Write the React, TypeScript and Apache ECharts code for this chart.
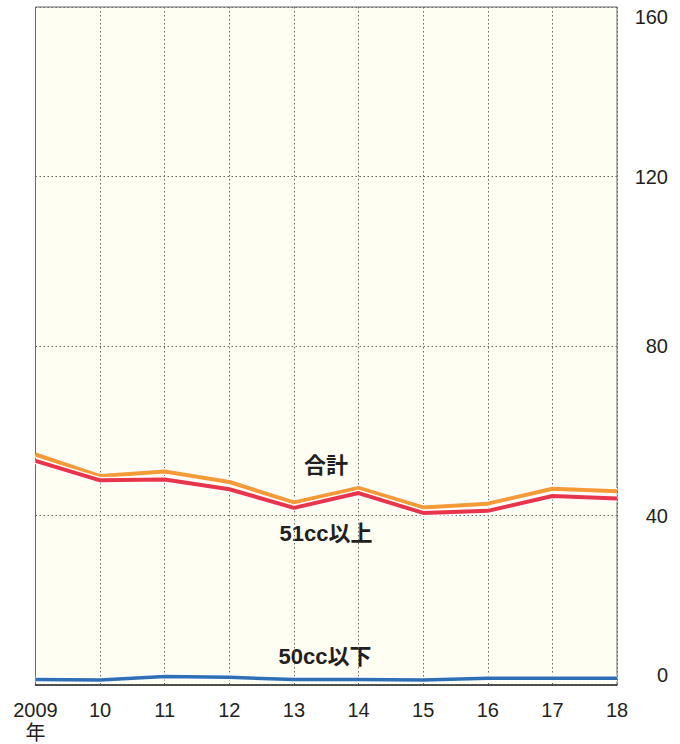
import React, { useEffect, useRef } from "react";
import * as echarts from "echarts";

const years = ["2009\n年", "10", "11", "12", "13", "14", "15", "16", "17", "18"];
const total = [54.4, 49.3, 50.4, 47.9, 43.1, 46.5, 41.9, 42.8, 46.3, 45.7];
const over51 = [52.9, 48.3, 48.5, 46.2, 41.8, 45.3, 40.6, 41.1, 44.6, 44.0];
const under50 = [1.3, 1.2, 2.0, 1.8, 1.3, 1.3, 1.2, 1.6, 1.6, 1.6];
const seriesNames = ["合計", "51cc以上", "50cc以下"];

const FONT = "'Liberation Sans', 'Noto Sans CJK JP', sans-serif";
const TEXT = "#231f20";

export default function App() {
  const ref = useRef<HTMLDivElement>(null);
  useEffect(() => {
    const chart = echarts.init(ref.current!, null, { renderer: "svg" });
    const line = (name: string, data: number[], color: string, width: number, z: number) => ({
      type: "line",
      name,
      data,
      symbol: "none",
      z,
      lineStyle: { color, width, cap: "butt", join: "round" },
      emphasis: { disabled: true },
      silent: true,
    });
    chart.setOption({
      animation: false,
      textStyle: { fontFamily: FONT },
      grid: {
        left: 35.5,
        right: 63,
        top: 7,
        bottom: 57,
        show: true,
        backgroundColor: "#fefef3",
        borderColor: "#6b6b6b",
        borderWidth: 1,
      },
      xAxis: {
        type: "category",
        data: years,
        boundaryGap: false,
        axisLine: { show: true, lineStyle: { color: "#333", width: 1.5 } },
        axisTick: { show: false },
        axisLabel: {
          color: TEXT,
          fontSize: 20,
          lineHeight: 23,
          margin: 13,
          fontFamily: FONT,
        },
        splitLine: { show: true, lineStyle: { color: "#666", type: [1.5, 2.5], width: 1 } },
      },
      yAxis: {
        type: "value",
        position: "right",
        min: 0,
        max: 160,
        interval: 40,
        axisLine: { show: false },
        axisTick: { show: false },
        axisLabel: {
          color: TEXT,
          fontSize: 20,
          align: "right",
          margin: 51,
          fontFamily: FONT,
          verticalAlignMinLabel: "bottom",
          verticalAlignMaxLabel: "top",
        },
        splitLine: { show: true, lineStyle: { color: "#666", type: [1.5, 2.5], width: 1 } },
      },
      series: [
        line(seriesNames[2] + "-halo", under50, "#ffffff", 6, 1),
        line(seriesNames[2], under50, "#2f6fb6", 3.5, 2),
        line(seriesNames[0] + "-halo", total, "#ffffff", 6.5, 3),
        line(seriesNames[0], total, "#f49b38", 4, 4),
        line(seriesNames[1] + "-halo", over51, "#ffffff", 6.5, 5),
        line(seriesNames[1], over51, "#e8354b", 4, 6),
      ],
      graphic: [
        {
          type: "text",
          x: 326,
          y: 465,
          style: {
            text: seriesNames[0],
            fill: TEXT,
            font: `bold 22px ${FONT}`,
            align: "center",
            verticalAlign: "middle",
          },
        },
        {
          type: "text",
          x: 326,
          y: 533,
          style: {
            text: seriesNames[1],
            fill: TEXT,
            font: `bold 22px ${FONT}`,
            align: "center",
            verticalAlign: "middle",
          },
        },
        {
          type: "text",
          x: 325,
          y: 656,
          style: {
            text: seriesNames[2],
            fill: TEXT,
            font: `bold 22px ${FONT}`,
            align: "center",
            verticalAlign: "middle",
          },
        },
      ],
    });
    return () => chart.dispose();
  }, []);
  return <div ref={ref} style={{ width: 680, height: 744, position: "absolute", left: 0, top: 0 }} />;
}
